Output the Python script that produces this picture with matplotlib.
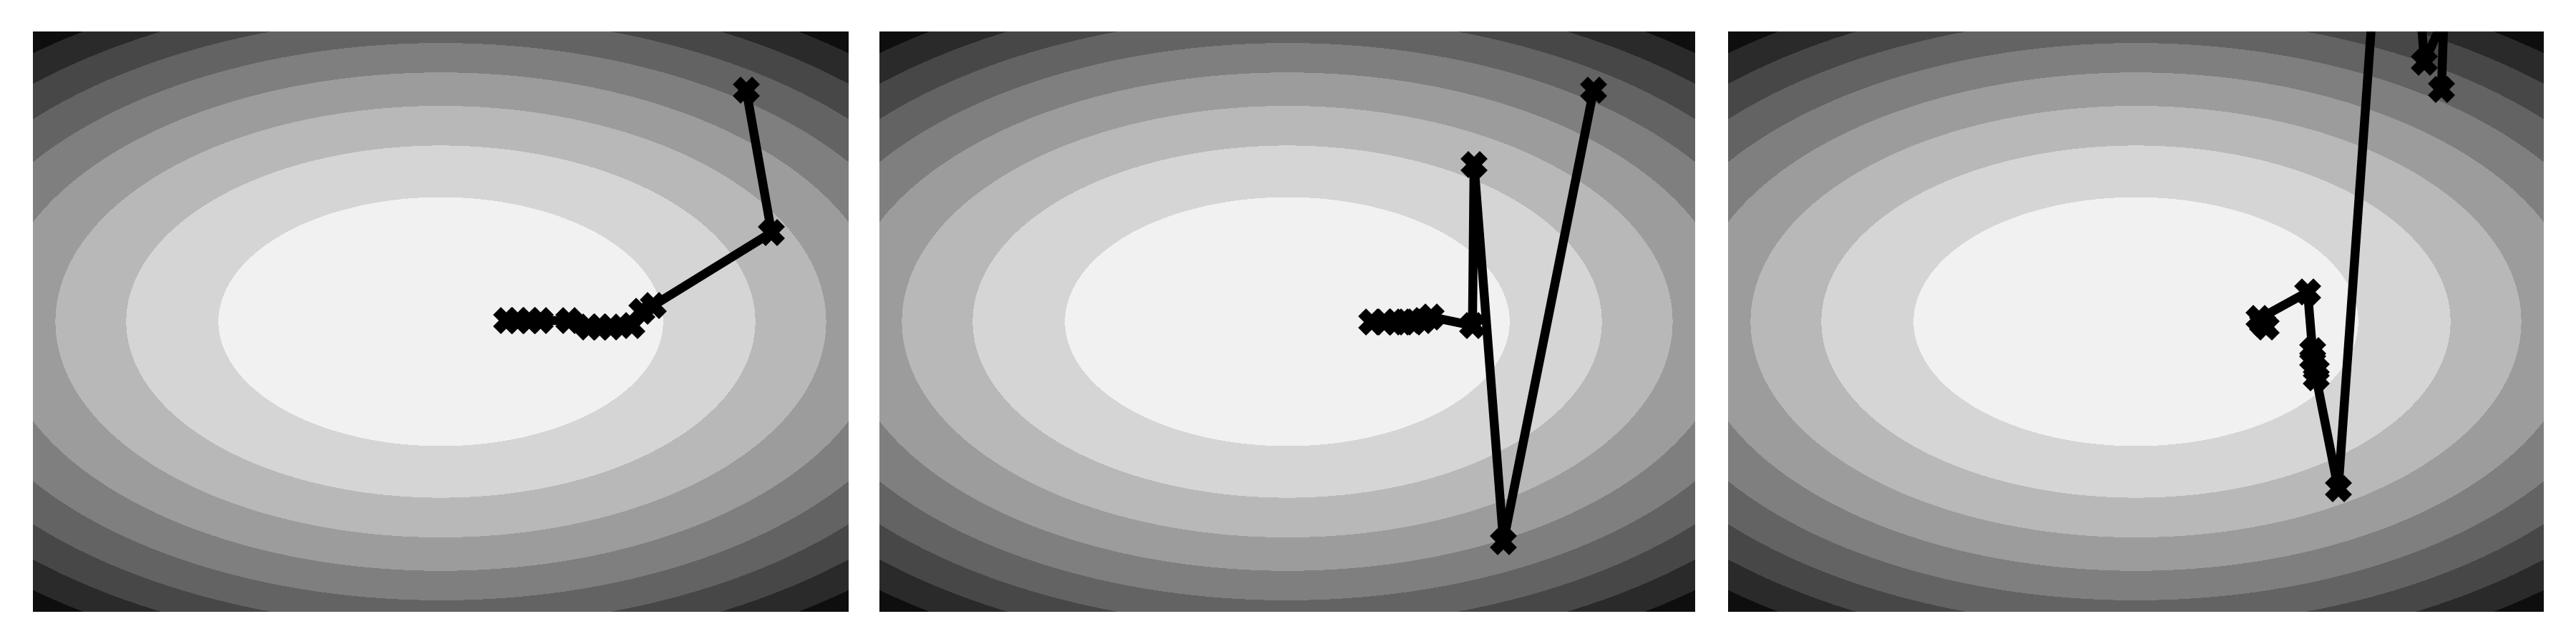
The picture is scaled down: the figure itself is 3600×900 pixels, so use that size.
import numpy as np
import matplotlib
matplotlib.use("Agg")
import matplotlib.pyplot as plt

# Contour background: elliptical bowl, levels 0..9
x_range = (-10.0, 10.0)
y_range = (-10.0, 10.0)
semi_x = 5.46   # x semi-axis of the level-1 ellipse
semi_y = 4.30   # y semi-axis of the level-1 ellipse
levels = list(range(0, 10))

# Optimizer trajectories
path1_x = [7.49, 8.11, 5.21, 4.93, 4.68, 4.16, 3.89, 3.63, 3.14, 2.44, 2.18, 1.88, 1.61]
path1_y = [7.98, 3.07, 0.555, 0.358, -0.135, -0.185, -0.185, -0.185, 0.037, 0.04, 0.04, 0.04, 0.04]

path2_x = [7.51, 5.30, 4.58, 4.54, 3.53, 3.32, 3.09, 2.86, 2.65, 2.39, 2.07]
path2_y = [7.98, -7.58, 5.41, -0.135, 0.16, 0.04, -0.01, -0.01, -0.01, -0.01, -0.01]

path3_x = [7.49, 7.55, 7.07, 6.40, 4.96, 4.42, 4.42, 4.33, 4.33, 4.21, 3.02, 3.19, 3.10]
path3_y = [8.00, 10.44, 8.94, 22.5, -5.76, -1.94, -1.66, -1.29, -1.00, 1.02, 0.10, -0.18, -0.05]

paths = [(path1_x, path1_y), (path2_x, path2_y), (path3_x, path3_y)]
panel_lefts = [46 / 3600, 1229 / 3600, 2415 / 3600]
panel_width = 1140 / 3600
panel_bottom = 45 / 900
panel_height = 811 / 900

gx = np.linspace(x_range[0], x_range[1], 600)
gy = np.linspace(y_range[0], y_range[1], 600)
GX, GY = np.meshgrid(gx, gy)
Z = (GX / semi_x) ** 2 + (GY / semi_y) ** 2

fig = plt.figure(figsize=(12, 3), dpi=300)
for left, (px, py) in zip(panel_lefts, paths):
    ax = fig.add_axes([left, panel_bottom, panel_width, panel_height])
    ax.contourf(GX, GY, Z, levels=levels, cmap="gray_r")
    ax.plot(px, py, "-X", color="black", lw=3, ms=7.5)
    ax.set_xlim(*x_range)
    ax.set_ylim(*y_range)
    ax.axis("off")

fig.savefig("out.png", dpi=300)
